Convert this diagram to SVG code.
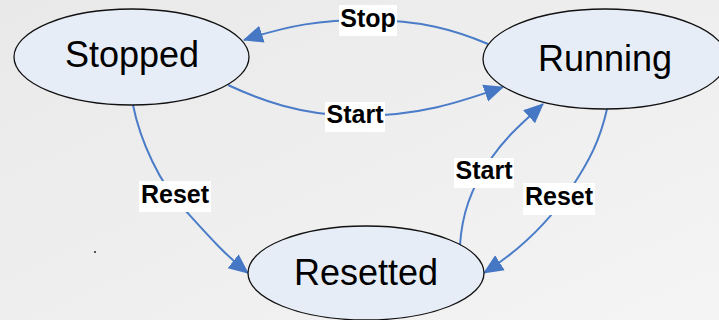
<svg xmlns="http://www.w3.org/2000/svg" width="719" height="320" viewBox="0 0 719 320">
<defs>
<linearGradient id="bg" x1="0" y1="0" x2="1" y2="1">
<stop offset="0" stop-color="#e9e9e9"/>
<stop offset="1" stop-color="#f4f4f4"/>
</linearGradient>
<marker id="arr" markerUnits="userSpaceOnUse" markerWidth="20" markerHeight="20" viewBox="0 -9 18 18" refX="17" refY="0" orient="auto">
<path d="M0,-8 L18,0 L0,8 z" fill="#4677c4"/>
</marker>
<style>
.node ellipse{fill:#e7edf7;stroke:#111;stroke-width:1.3}
.node text{font-family:"Liberation Sans",Arial,sans-serif;font-size:36px;fill:#000;text-anchor:middle}
.edges path{fill:none;stroke:#4a7cc8;stroke-width:2;marker-end:url(#arr)}
.lbl rect{fill:#fff}
.lbl text{font-family:"Liberation Sans",Arial,sans-serif;font-size:25px;font-weight:bold;fill:#000;text-anchor:middle}
</style>
</defs>
<rect x="0" y="0" width="719" height="320" fill="url(#bg)"/>
<rect x="94" y="251" width="2" height="2" fill="#555"/>
<g class="edges" id="connectors">
<path d="M488,44 C455,30 420,20 368,20 C320,20 290,25 244,40"/>
<path d="M228,85 C260,100 300,115 355,116 C420,116 460,102 503,87"/>
<path d="M133,105 C140,140 160,185 185,210 C205,232 225,255 248,273"/>
<path d="M460,245 C462,215 470,190 490,160 C505,138 520,125 543,104"/>
<path d="M607,109 C600,140 590,160 570,190 C550,220 520,250 484,273"/>
</g>
<g id="stopped" class="node">
<ellipse cx="131.5" cy="57" rx="117.5" ry="48"/>
<text x="132" y="67">Stopped</text>
</g>
<g id="running" class="node">
<ellipse cx="605" cy="59" rx="122" ry="50"/>
<text x="605" y="71">Running</text>
</g>
<g id="resetted" class="node">
<ellipse cx="366" cy="273" rx="118" ry="47"/>
<text x="366" y="285">Resetted</text>
</g>
<g class="lbl" id="labels">
<rect x="339" y="5" width="58" height="31"/>
<text x="368" y="27">Stop</text>
<rect x="325" y="102" width="60" height="30"/>
<text x="355" y="123">Start</text>
<rect x="139" y="181" width="72" height="31"/>
<text x="175" y="203">Reset</text>
<rect x="454" y="158" width="60" height="30"/>
<text x="484" y="179">Start</text>
<rect x="523" y="183" width="72" height="32"/>
<text x="559" y="205">Reset</text>
</g>
</svg>
